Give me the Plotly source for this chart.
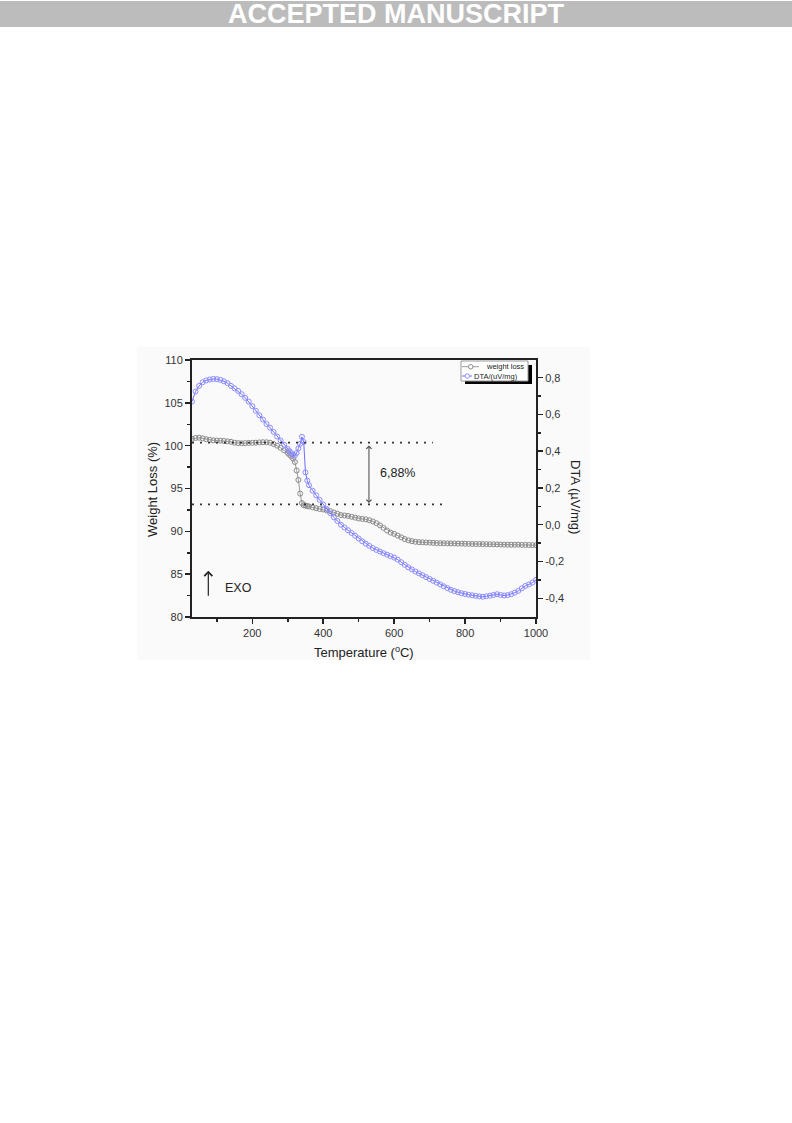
import plotly.graph_objects as go

# ---------------- data ----------------
temperature = [30, 40, 50, 60, 70, 80, 90, 100, 110, 120, 130, 140, 150, 160, 170, 180, 190, 200,
               210, 220, 230, 240, 250, 260, 270, 280, 290, 300,
               305, 310, 315, 320, 325, 330, 335, 340, 345, 350, 355, 360,
               370, 380, 390, 400, 410, 420, 430, 440, 450, 460, 470, 480, 490, 500,
               510, 520, 530, 540, 550, 560, 570, 580, 590, 600, 610, 620, 630, 640, 650,
               660, 670, 680, 690, 700, 710, 720, 730, 740, 750, 760, 770, 780, 790, 800,
               810, 820, 830, 840, 850, 860, 870, 880, 890, 900, 910, 920, 930, 940, 950,
               960, 970, 980, 990, 1000]

weight_loss = [100.8, 100.9, 100.93, 100.85, 100.75, 100.68, 100.62, 100.6, 100.58, 100.55, 100.5,
               100.45, 100.35, 100.3, 100.28, 100.3, 100.32, 100.33, 100.35, 100.38, 100.4, 100.4,
               100.35, 100.2, 100.0, 99.75, 99.45, 99.15,
               98.95, 98.75, 98.5, 98.1, 97.1, 96.0, 94.4, 93.3, 93.05, 93.0, 92.95, 92.9,
               92.8, 92.7, 92.6, 92.55, 92.45, 92.35, 92.2, 92.05, 91.9, 91.85, 91.8, 91.7, 91.6, 91.5,
               91.45, 91.4, 91.3, 91.15, 90.95, 90.7, 90.4, 90.1, 89.85, 89.7, 89.5, 89.3, 89.1, 88.95, 88.85,
               88.78, 88.74, 88.72, 88.7, 88.68, 88.65, 88.63, 88.62, 88.61, 88.6, 88.59, 88.58, 88.57, 88.56, 88.55,
               88.54, 88.53, 88.52, 88.52, 88.51, 88.5, 88.49, 88.48, 88.47, 88.46, 88.45, 88.44, 88.43, 88.43, 88.44,
               88.42, 88.41, 88.4, 88.39, 88.38]

dta = [0.67, 0.725, 0.755, 0.775, 0.785, 0.79, 0.793, 0.792, 0.788, 0.78, 0.77, 0.755, 0.742, 0.728,
       0.71, 0.69, 0.67, 0.645, 0.62, 0.595, 0.572, 0.548, 0.528, 0.505, 0.48, 0.458, 0.435, 0.412,
       0.4, 0.39, 0.38, 0.376, 0.39, 0.415, 0.44, 0.478, 0.45, 0.285, 0.24, 0.215,
       0.185, 0.16, 0.135, 0.11, 0.085, 0.062, 0.04, 0.02, 0.0, -0.015, -0.03, -0.045, -0.06, -0.075,
       -0.09, -0.103, -0.115, -0.127, -0.137, -0.146, -0.155, -0.163, -0.171, -0.179, -0.19, -0.204,
       -0.218, -0.232, -0.243, -0.255, -0.265, -0.275, -0.285, -0.295, -0.305, -0.315, -0.325, -0.335,
       -0.345, -0.354, -0.361, -0.367, -0.373, -0.377, -0.381, -0.384, -0.387, -0.39, -0.392, -0.389,
       -0.386, -0.382, -0.378, -0.382, -0.385, -0.383, -0.378, -0.37, -0.36, -0.346, -0.333, -0.325,
       -0.315, -0.3]

x_ticks = [200, 400, 600, 800, 1000]
left_ticks = [80, 85, 90, 95, 100, 105, 110]
right_ticks = [-0.4, -0.2, 0.0, 0.2, 0.4, 0.6, 0.8]
right_tick_text = ["-0,4", "-0,2", "0,0", "0,2", "0,4", "0,6", "0,8"]

series_names = ["weight loss", "DTA/(uV/mg)"]

# ---------------- helpers (page pixel -> paper) ----------------
W, H = 792, 1123
def px(x):
    return x / W
def py(y):
    return 1 - y / H

FONT = "Liberation Sans, Arial, sans-serif"
GRAY = "#8a8a8a"
BLUE = "#8c8cff"
AX = "#222222"

fig = go.Figure()

fig.add_trace(go.Scatter(
    x=temperature, y=weight_loss, name=series_names[0], mode="lines+markers",
    line=dict(color="#9a9a9a", width=1),
    marker=dict(symbol="circle-open", size=5, color=GRAY, line=dict(width=1, color=GRAY)),
    yaxis="y", showlegend=False))

fig.add_trace(go.Scatter(
    x=temperature, y=dta, name=series_names[1], mode="lines+markers",
    line=dict(color="#6f6fff", width=1),
    marker=dict(symbol="circle-open", size=5, color=BLUE, line=dict(width=1, color=BLUE)),
    yaxis="y2", showlegend=False))

tickfont = dict(family=FONT, size=11, color="#333333")

fig.update_layout(
    width=W, height=H, autosize=False,
    margin=dict(l=0, r=0, t=0, b=0, pad=0),
    paper_bgcolor="white", plot_bgcolor="rgba(0,0,0,0)",
    xaxis=dict(domain=[px(192), px(536)], range=[30, 1000], automargin=False,
               tickvals=x_ticks, ticks="outside", ticklen=5, tickwidth=1.5, tickcolor=AX,
               minor=dict(tickvals=[100, 300, 500, 700, 900], ticks="outside", ticklen=3,
                          tickwidth=1.5, tickcolor=AX),
               showline=True, linecolor=AX, linewidth=2, mirror=True,
               showgrid=False, zeroline=False, tickfont=tickfont, anchor="y"),
    yaxis=dict(domain=[py(617), py(360)], range=[80, 110], automargin=False,
               tickvals=left_ticks, ticks="outside", ticklen=5, tickwidth=1.5, tickcolor=AX,
               minor=dict(tickvals=[82.5, 87.5, 92.5, 97.5, 102.5, 107.5], ticks="outside",
                          ticklen=3, tickwidth=1.5, tickcolor=AX),
               showline=True, linecolor=AX, linewidth=2,
               showgrid=False, zeroline=False, tickfont=tickfont, anchor="x"),
    yaxis2=dict(overlaying="y", side="right", range=[-0.502, 0.896], automargin=False,
                tickvals=right_ticks, ticktext=right_tick_text,
                ticks="outside", ticklen=5, tickwidth=1.5, tickcolor=AX,
                minor=dict(tickvals=[-0.3, -0.1, 0.1, 0.3, 0.5, 0.7], ticks="outside",
                           ticklen=3, tickwidth=1.5, tickcolor=AX),
                showline=True, linecolor=AX, linewidth=2,
                showgrid=False, zeroline=False, tickfont=tickfont, anchor="x"),
)

shapes = []
# banner
shapes.append(dict(type="rect", xref="paper", yref="paper", x0=0, x1=1, y0=py(27), y1=py(1),
                   fillcolor="#bcbcbc", line=dict(width=0), layer="below"))
# faint figure background
shapes.append(dict(type="rect", xref="paper", yref="paper", x0=px(137), x1=px(590),
                   y0=py(660), y1=py(347), fillcolor="#fafafa", line=dict(width=0), layer="below"))
# dotted reference lines (data coords)
shapes.append(dict(type="line", xref="x", yref="y", x0=30, x1=709, y0=100.35, y1=100.35,
                   line=dict(color="#333333", width=1.6, dash="2px,6px")))
shapes.append(dict(type="line", xref="x", yref="y", x0=30, x1=739, y0=93.15, y1=93.15,
                   line=dict(color="#333333", width=1.6, dash="2px,6px")))
# legend box with shadow
shapes.append(dict(type="rect", xref="paper", yref="paper", x0=px(465), x1=px(532),
                   y0=py(384), y1=py(365), fillcolor="black", line=dict(width=0)))
shapes.append(dict(type="rect", xref="paper", yref="paper", x0=px(461), x1=px(528),
                   y0=py(381), y1=py(361), fillcolor="white", line=dict(color="#999999", width=1)))
# legend sample lines
shapes.append(dict(type="line", xref="paper", yref="paper", x0=px(462), x1=px(479),
                   y0=py(366.7), y1=py(366.7), line=dict(color="#9a9a9a", width=1)))
shapes.append(dict(type="circle", xref="paper", yref="paper", x0=px(468.5), x1=px(473),
                   y0=py(369), y1=py(364.5), fillcolor="white", line=dict(color=GRAY, width=1)))
shapes.append(dict(type="line", xref="paper", yref="paper", x0=px(462), x1=px(472),
                   y0=py(376), y1=py(376), line=dict(color="#6f6fff", width=1)))
shapes.append(dict(type="circle", xref="paper", yref="paper", x0=px(465), x1=px(469.5),
                   y0=py(378.3), y1=py(373.8), fillcolor="white", line=dict(color=BLUE, width=1)))
fig.update_layout(shapes=shapes)

ann = []
ann.append(dict(text="<b>ACCEPTED MANUSCRIPT</b>", xref="paper", yref="paper", x=0.5, y=py(14.5),
                showarrow=False, font=dict(family=FONT, size=27, color="white"),
                xanchor="center", yanchor="middle"))
# axis titles
ann.append(dict(text="Weight Loss (%)", xref="paper", yref="paper", x=px(152), y=py(490),
                textangle=-90, showarrow=False, font=dict(family=FONT, size=13, color="#222"),
                xanchor="center", yanchor="middle"))
ann.append(dict(text="DTA (\u00b5V/mg)", xref="paper", yref="paper", x=px(576), y=py(497),
                textangle=90, showarrow=False, font=dict(family=FONT, size=13, color="#222"),
                xanchor="center", yanchor="middle"))
ann.append(dict(text="Temperature (<sup>o</sup>C)", xref="paper", yref="paper", x=px(364), y=py(652),
                showarrow=False, font=dict(family=FONT, size=13, color="#222"),
                xanchor="center", yanchor="middle"))
# legend texts
ann.append(dict(text=series_names[0], xref="paper", yref="paper", x=px(484), y=py(366.7),
                showarrow=False, font=dict(family=FONT, size=7.5, color="#222"),
                xanchor="left", yanchor="middle"))
ann.append(dict(text=series_names[1], xref="paper", yref="paper", x=px(472), y=py(376),
                showarrow=False, font=dict(family=FONT, size=7.5, color="#222"),
                xanchor="left", yanchor="middle"))
# double arrow + label
ann.append(dict(x=529, y=93.3, ax=529, ay=100.2, xref="x", yref="y", axref="x", ayref="y",
                text="", showarrow=True, arrowside="end+start", arrowhead=4, startarrowhead=4,
                arrowsize=1, startarrowsize=1, arrowwidth=1, arrowcolor="#444"))
ann.append(dict(text="6,88%", x=555, y=96.85, xref="x", yref="y", showarrow=False,
                font=dict(family=FONT, size=12.5, color="#222"), xanchor="left", yanchor="middle"))
# EXO arrow
ann.append(dict(x=76, y=85.4, ax=76, ay=82.3, xref="x", yref="y", axref="x", ayref="y",
                text="", showarrow=True, arrowhead=4, arrowsize=1.3, arrowwidth=1.2, arrowcolor="#222"))
ann.append(dict(text="EXO", x=117, y=83.35, xref="x", yref="y", showarrow=False,
                font=dict(family=FONT, size=12.5, color="#222"), xanchor="left", yanchor="middle"))
fig.update_layout(annotations=ann)

fig.write_html("out.html",
               config={"displayModeBar": False, "responsive": False, "staticPlot": True},
               post_script=("document.documentElement.style.margin='0';"
                            "document.documentElement.style.overflow='hidden';"
                            "document.body.style.margin='0';"
                            "document.body.style.padding='0';"
                            "document.body.style.overflow='hidden';"))
